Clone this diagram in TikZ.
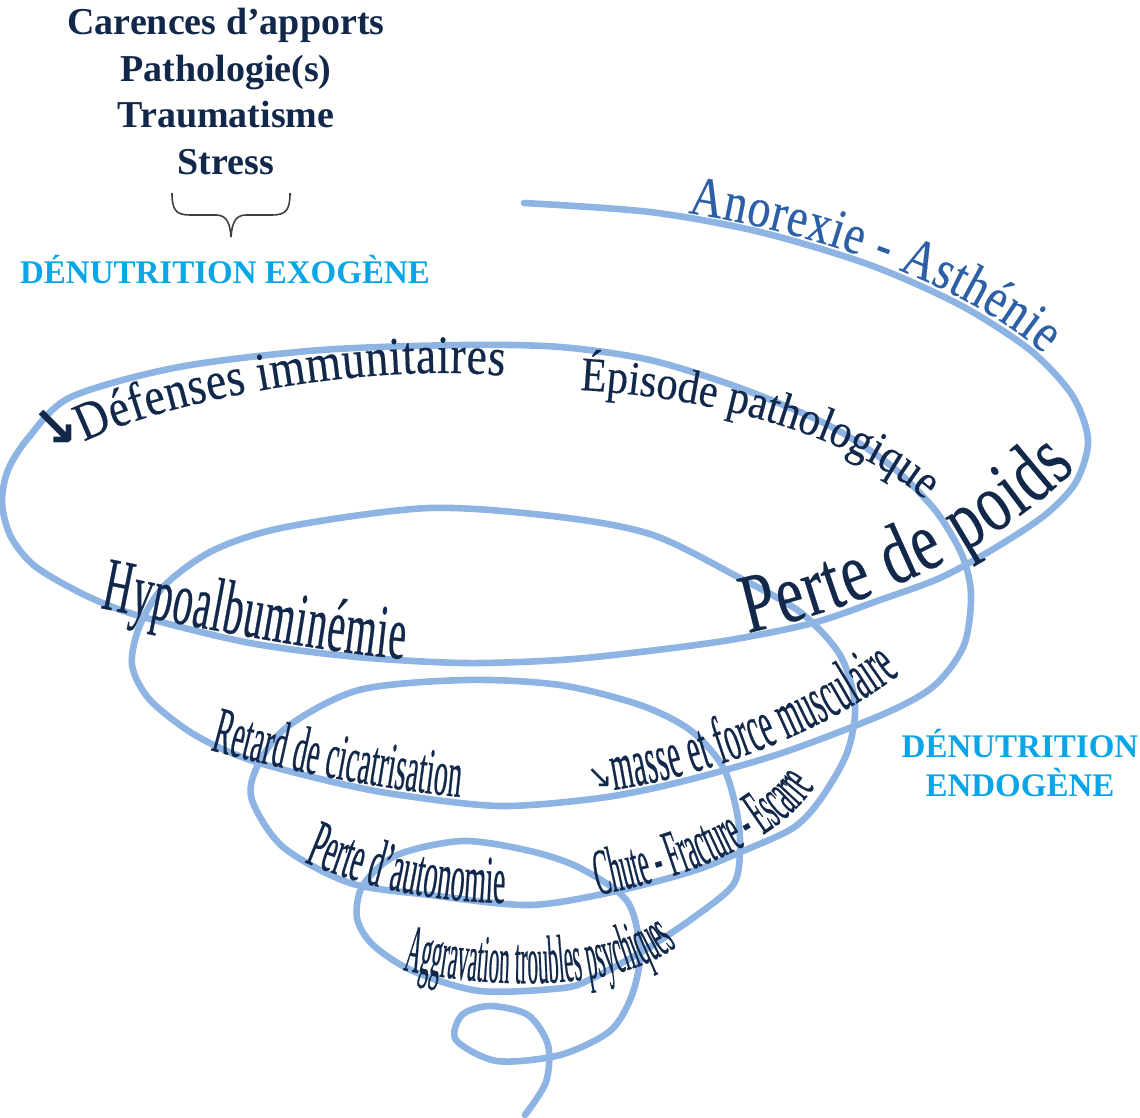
\documentclass[tikz,border=0pt]{standalone}
\usepackage{fontspec}
\setmainfont{Liberation Serif}
\newfontfamily\arrowfont{DejaVu Sans}
\usetikzlibrary{decorations.text}

\definecolor{navy}{HTML}{12284A}
\definecolor{spiralblue}{HTML}{8EB4E3}
\definecolor{midblue}{HTML}{2C5FA6}
\definecolor{skyblue}{HTML}{0AA5E6}
\definecolor{bracegray}{HTML}{404040}

% condensed serif for the labels along the spiral: {stretch}{size}
\newcommand{\spiralfont}[2]{\fontsize{#2}{#2}\selectfont\addfontfeatures{FakeStretch=#1,FakeBold=0.3}}

\tikzset{
  spiral/.style={draw=spiralblue, line width=3.3pt, line cap=round, line join=round},
  onspiral/.style={decorate, decoration={text along path, text align=fit to path, text={#1}}},
  causes/.style={anchor=base, text=navy, inner sep=0pt, font=\bfseries\fontsize{19}{19}\selectfont},
  kind/.style={anchor=base, text=skyblue, inner sep=0pt, font=\bfseries\fontsize{16.5}{16.5}\selectfont},
}

\begin{document}
\begin{tikzpicture}[x=0.5pt,y=-0.5pt]
  \useasboundingbox (0,0) rectangle (1140,1118);

  % the spiral, from the top right end down to the small loop
  \draw[spiral] plot[smooth] coordinates
    {(524,203)(650,212)(760,232)(870,265)(960,305)(1030,350)(1072,395)(1088,440)
     (1076,482)(1045,515)(995,548)(940,578)(880,600)(813,623)(730,640)(640,652)
     (560,660)(464,663)(357,657)(250,643)(143,617)(89,597)(36,567)(11,537)(2,503)
     (8,470)(29,437)(71,397)(179,367)(321,350)(464,345)(560,347)
     (650,360)(740,388)(828,425)(890,465)(935,510)(962,555)(971,595)(964,645)
     (935,685)(886,713)(782,753)(680,782)(600,798)(500,806)(400,795)(333,782)
     (250,760)(195,735)(150,700)(132,665)(140,625)(165,585)(214,550)(286,527)
     (429,508)(560,517)(653,535)(738,577)(800,612)(840,655)(855,705)(847,753)
     (820,800)(793,828)(743,851)(693,871)(617,891)(530,905)(430,895)(350,883)
     (283,847)(252,800)(257,767)(287,727)(359,690)(466,680)(560,685)(640,705)
     (690,730)(723,767)(737,813)(740,851)(733,885)(693,918)(643,951)(593,978)
     (563,988)(480,991)(413,971)(373,945)(357,918)(363,885)(397,855)(463,841)
     (530,851)(580,868)(627,901)(640,951)(632,995)(610,1031)(560,1055)(497,1061)
     (456,1040)(462,1015)(490,1006)(528,1015)(548,1045)(546,1082)(525,1115)};

  % causes of exogenous undernutrition
  \node[causes] (carences) at (226,35)  {Carences d’apports};
  \node[causes] (patho)    at (226,82)  {Pathologie(s)};
  \node[causes] (trauma)   at (226,128) {Traumatisme};
  \node[causes] (stress)   at (226,175) {Stress};
  \draw[bracegray, line width=0.8pt]
    (172,193) .. controls (172,210) and (176,215) .. (190,215) -- (216,215)
    .. controls (226,215) and (230,222) .. (231,237)
    .. controls (232,222) and (236,215) .. (246,215) -- (272,215)
    .. controls (286,215) and (290,210) .. (290,193);
  \node[kind] (exogene) at (225,284) {DÉNUTRITION EXOGÈNE};

  \node[kind] (endo1) at (1020,757) {DÉNUTRITION};
  \node[kind] (endo2) at (1020,796) {ENDOGÈNE};

  % labels written along the turns
  \path[onspiral={|\color{midblue}\spiralfont{0.82}{28}|Anorexie - Asthénie}]
    (688,213) .. controls (810,232) and (960,280) .. (1044,354);
  \node[text=navy, font=\arrowfont\bfseries\fontsize{28}{28}\selectfont]
    (arrowdef) at (55,428) {↘};
  \path[onspiral={|\color{navy}\spiralfont{0.84}{27}|Défenses immunitaires}]
    (84,442) .. controls (170,398) and (380,362) .. (504,376);
  \path[onspiral={|\color{navy}\spiralfont{0.88}{24}|Épisode pathologique}]
    (580,390) .. controls (720,398) and (855,438) .. (925,500);
  \path[onspiral={|\color{navy}\spiralfont{0.73}{42}|Perte de poids}]
    (748,633) .. controls (870,605) and (995,550) .. (1076,468);
  \path[onspiral={|\color{navy}\spiralfont{0.52}{38}|Hypoalbuminémie}]
    (100,608) .. controls (200,628) and (320,652) .. (404,659);
  \path[onspiral={|\color{navy}\spiralfont{0.42}{33}|Retard de cicatrisation}]
    (210,750) .. controls (290,772) and (390,790) .. (460,797);
  \node[text=navy, font=\arrowfont\fontsize{16}{16}\selectfont]
    (arrowmus) at (600,778) {↘};
  \path[onspiral={|\color{navy}\spiralfont{0.42}{34}|masse et force musculaire}]
    (614,790) .. controls (720,773) and (830,728) .. (900,674);
  \path[onspiral={|\color{navy}\spiralfont{0.41}{34}|Perte d'autonomie}]
    (304,862) .. controls (370,890) and (440,902) .. (505,903);
  \path[onspiral={|\color{navy}\spiralfont{0.36}{33}|Chute - Fracture - Escarre}]
    (598,895) .. controls (690,878) and (780,840) .. (815,786);
  \path[onspiral={|\color{navy}\spiralfont{0.31}{34}|Aggravation troubles psychiques}]
    (403,970) .. controls (500,991) and (620,990) .. (677,946);
\end{tikzpicture}
\end{document}
